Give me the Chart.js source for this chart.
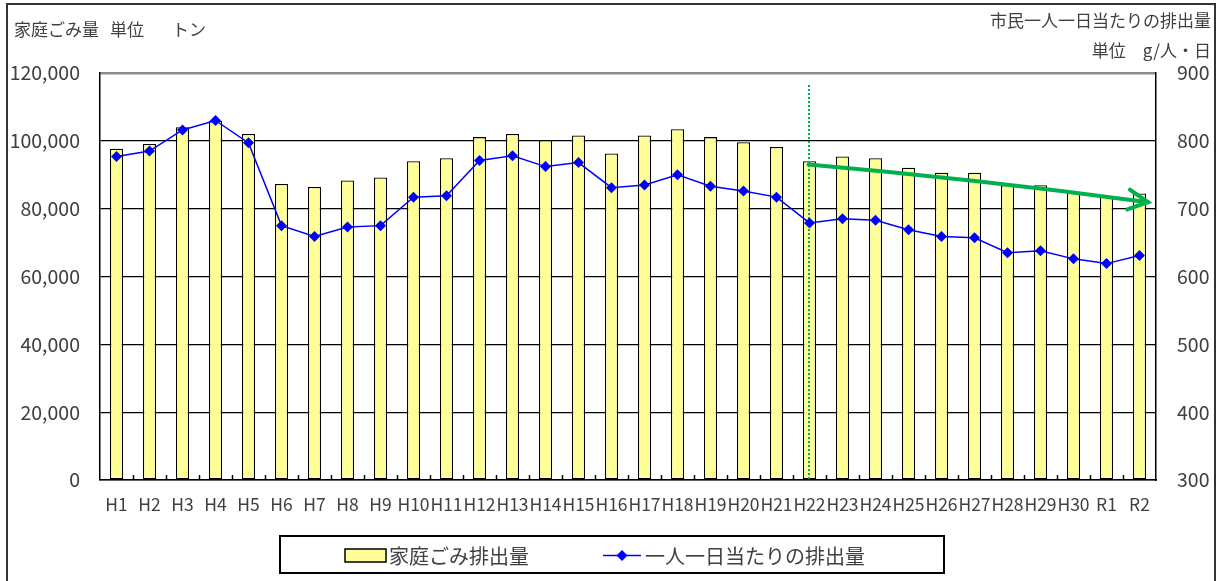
<!DOCTYPE html>
<html>
<head>
<meta charset="utf-8">
<script src="https://cdn.jsdelivr.net/npm/chart.js@4"></script>
<style>
  html, body { margin: 0; padding: 0; background: #fff; }
  #wrap { position: relative; width: 1217px; height: 581px; }
</style>
</head>
<body>
<div id="wrap"><canvas id="c"></canvas></div>
<script>
// ---- data ----
const categories = ['H1','H2','H3','H4','H5','H6','H7','H8','H9','H10','H11','H12','H13','H14','H15','H16','H17','H18','H19','H20','H21','H22','H23','H24','H25','H26','H27','H28','H29','H30','R1','R2'];
const householdWaste = [97700, 99100, 104000, 105900, 102050, 87300, 86400, 88300, 89200, 94000, 94900, 101100, 102000, 100200, 101600, 96300, 101600, 103400, 101100, 99600, 98200, 94000, 95400, 94900, 92100, 90600, 90600, 86900, 86900, 85000, 83600, 84500];
const perCapita = [777, 785, 816, 830, 797, 675, 659, 673, 675, 717, 719, 771, 778, 762, 768, 731, 735, 750, 733, 726, 717, 679, 685, 683, 669, 659, 657, 635, 638, 626, 619, 631];
const leftTicks = [0, 20000, 40000, 60000, 80000, 100000, 120000];
const rightTicks = [300, 400, 500, 600, 700, 800, 900];
const seriesNames = ['家庭ごみ排出量', '一人一日当たりの排出量'];
const leftTitle = ['家庭ごみ量', '単位', 'トン'];
const rightTitle = ['市民一人一日当たりの排出量', '単位　g/人・日'];
// trend annotation (category index, left-axis value)
const markerIndex = 21;        // H22
const trendStart = [21, 93000];
const trendEnd = [31.26, 81900];

const FONT = '"Noto Sans CJK JP", "Noto Sans", sans-serif';
const TXT = '#404040';
const GREEN = '#00B050';

const deco = {
  id: 'deco',
  beforeDraw(chart) {
    const ctx = chart.ctx;
    ctx.save();
    ctx.fillStyle = '#fff';
    ctx.fillRect(0, 0, chart.width, chart.height);
    // outer frame (no bottom edge)
    ctx.strokeStyle = '#333';
    ctx.lineWidth = 2;
    ctx.beginPath();
    ctx.moveTo(7, chart.height);
    ctx.lineTo(7, 4);
    ctx.lineTo(1215, 4);
    ctx.lineTo(1215, chart.height);
    ctx.stroke();
    ctx.restore();
  },
  afterDatasetDraw(chart, args) {
    if (args.index !== 0) return;
    const ctx = chart.ctx, x = chart.scales.x, a = chart.chartArea;
    ctx.save();
    ctx.strokeStyle = GREEN;
    ctx.lineWidth = 2;
    ctx.setLineDash([2, 2]);
    const px = Math.round(x.getPixelForValue(markerIndex)) - 1;
    ctx.beginPath();
    ctx.moveTo(px, 85);
    ctx.lineTo(px, a.bottom);
    ctx.stroke();
    ctx.restore();
  },
  afterDatasetsDraw(chart) {
    const ctx = chart.ctx, x = chart.scales.x, y = chart.scales.y, a = chart.chartArea;
    ctx.save();
    // category tick marks pointing up
    ctx.strokeStyle = '#000';
    ctx.lineWidth = 1.5;
    for (let i = 1; i < categories.length; i++) {
      const px = Math.round((x.getPixelForValue(i - 1) + x.getPixelForValue(i)) / 2) + 0.5;
      ctx.beginPath();
      ctx.moveTo(px, a.bottom);
      ctx.lineTo(px, a.bottom - 5);
      ctx.stroke();
    }
    // trend arrow
    const x0 = x.getPixelForValue(trendStart[0]) - 1, y0 = y.getPixelForValue(trendStart[1]);
    const x1 = x.getPixelForValue(trendEnd[0]), y1 = y.getPixelForValue(trendEnd[1]);
    const cx = (x0 + x1) / 2, cy = (y0 + y1) / 2 - 4;
    ctx.strokeStyle = GREEN;
    ctx.lineWidth = 4;
    ctx.lineCap = 'round';
    ctx.beginPath();
    ctx.moveTo(x0, y0);
    ctx.quadraticCurveTo(cx, cy, x1, y1);
    ctx.stroke();
    const ang = Math.atan2(y1 - cy, x1 - cx);
    const L = 22, sp = 0.47;
    ctx.beginPath();
    ctx.moveTo(x1 - L * Math.cos(ang - sp), y1 - L * Math.sin(ang - sp));
    ctx.lineTo(x1, y1);
    ctx.lineTo(x1 - L * Math.cos(ang + sp), y1 - L * Math.sin(ang + sp));
    ctx.stroke();
    ctx.restore();
  },
  afterDraw(chart) {
    const ctx = chart.ctx;
    ctx.save();
    ctx.fillStyle = TXT;
    ctx.textBaseline = 'middle';
    ctx.font = '17px ' + FONT;
    ctx.textAlign = 'left';
    ctx.fillText(leftTitle[0], 14, 30);
    ctx.fillText(leftTitle[1], 110, 30);
    ctx.fillText(leftTitle[2], 172, 30);
    ctx.textAlign = 'right';
    ctx.fillText(rightTitle[0], 1211, 21);
    ctx.fillText(rightTitle[1], 1211, 51);
    // legend
    ctx.strokeStyle = '#000';
    ctx.lineWidth = 2;
    ctx.strokeRect(280, 536, 664, 37);
    ctx.fillStyle = '#FFFF99';
    ctx.fillRect(345, 549, 41, 13);
    ctx.lineWidth = 1.5;
    ctx.strokeRect(345, 549, 41, 13);
    ctx.strokeStyle = '#0000FF';
    ctx.beginPath();
    ctx.moveTo(603, 555.5);
    ctx.lineTo(641, 555.5);
    ctx.stroke();
    ctx.fillStyle = '#0000FF';
    ctx.beginPath();
    ctx.moveTo(622, 550); ctx.lineTo(627.5, 555.5); ctx.lineTo(622, 561); ctx.lineTo(616.5, 555.5);
    ctx.closePath();
    ctx.fill();
    ctx.fillStyle = TXT;
    ctx.textAlign = 'left';
    ctx.font = '20px ' + FONT;
    ctx.fillText(seriesNames[0], 389, 556);
    ctx.fillText(seriesNames[1], 645, 556);
    ctx.restore();
  }
};

new Chart(document.getElementById('c'), {
  type: 'bar',
  data: {
    labels: categories,
    datasets: [
      {
        label: seriesNames[0],
        data: householdWaste,
        yAxisID: 'y',
        order: 2,
        backgroundColor: '#FFFF99',
        borderColor: '#000',
        borderWidth: 1.3,
        borderSkipped: false,
        categoryPercentage: 1,
        barPercentage: 0.4
      },
      {
        type: 'line',
        label: seriesNames[1],
        data: perCapita,
        yAxisID: 'y1',
        order: 1,
        borderColor: '#0000FF',
        borderWidth: 1.5,
        pointStyle: 'rectRot',
        pointRadius: 5.5,
        pointBackgroundColor: '#0000FF',
        pointBorderColor: '#0000FF',
        pointBorderWidth: 0,
        tension: 0
      }
    ]
  },
  options: {
    responsive: true,
    maintainAspectRatio: false,
    animation: false,
    layout: { padding: { top: 73, left: 0, right: 0, bottom: 0 } },
    plugins: { legend: { display: false }, tooltip: { enabled: false } },
    scales: {
      x: {
        offset: true,
        grid: { display: false, drawTicks: false },
        border: { color: '#000', width: 1.5 },
        ticks: { font: { family: FONT, size: 17.5 }, color: TXT, padding: 14, maxRotation: 0, autoSkip: false },
        afterFit(s) { s.height = 101; }
      },
      y: {
        position: 'left',
        min: leftTicks[0],
        max: leftTicks[leftTicks.length - 1],
        afterBuildTicks(s) { s.ticks = leftTicks.map(v => ({ value: v })); },
        grid: {
          drawTicks: false,
          color: c => (c.tick && c.tick.value === leftTicks[leftTicks.length - 1]) ? '#8c8c8c' : '#000',
          lineWidth: c => (c.tick && c.tick.value === leftTicks[leftTicks.length - 1]) ? 2.5 : 1.3
        },
        border: { color: '#000', width: 1.5 },
        ticks: { font: { family: FONT, size: 19.5 }, color: TXT, padding: 20, callback: v => v.toLocaleString('en-US') },
        afterFit(s) { s.width = 100; }
      },
      y1: {
        position: 'right',
        min: rightTicks[0],
        max: rightTicks[rightTicks.length - 1],
        afterBuildTicks(s) { s.ticks = rightTicks.map(v => ({ value: v })); },
        grid: { display: false, drawTicks: false },
        border: { color: '#000', width: 1.5 },
        ticks: { font: { family: FONT, size: 19.5 }, color: TXT, padding: 21 },
        afterFit(s) { s.width = 61; }
      }
    }
  },
  plugins: [deco]
});
</script>
</body>
</html>
